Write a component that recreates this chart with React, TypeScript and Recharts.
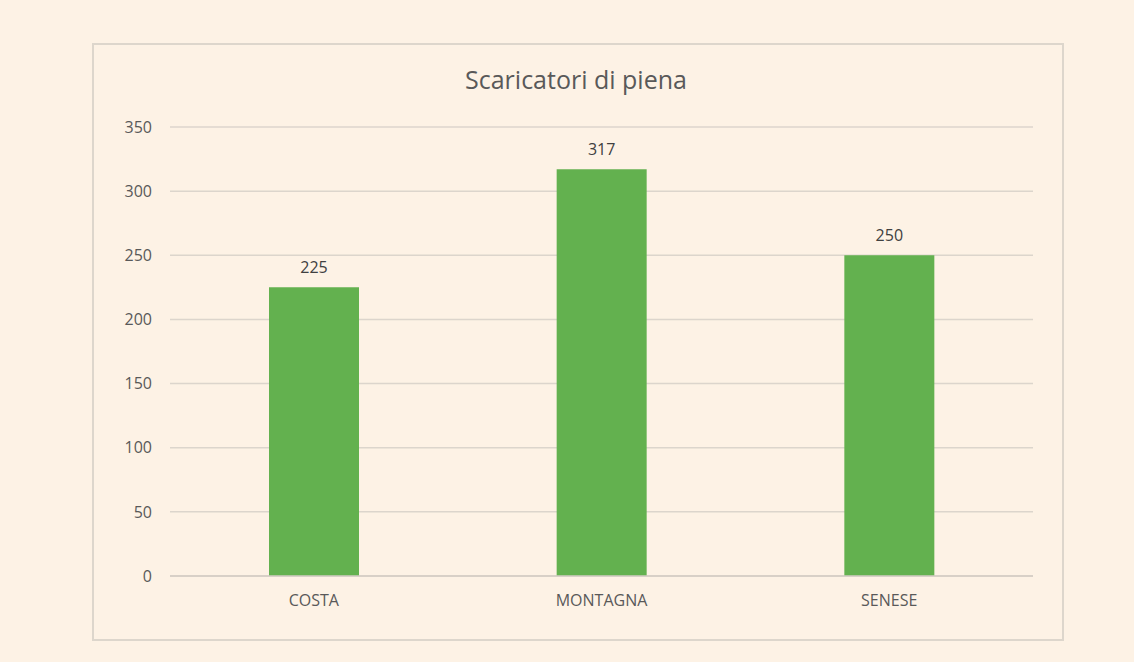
import { Bar, BarChart, CartesianGrid, LabelList, XAxis, YAxis } from "recharts";

const zone = ["COSTA", "MONTAGNA", "SENESE"];
const scaricatori = [225, 317, 250];
const yTicks = [0, 50, 100, 150, 200, 250, 300, 350];

const data = zone.map((z, i) => ({ zone: z, count: scaricatori[i] }));

const textGray = "#595959";
const font = "'Open Sans', 'Noto Sans', sans-serif";

export default function App() {
  return (
    <div
      style={{
        position: "absolute",
        left: 0,
        top: 0,
        width: 1134,
        height: 662,
        background: "#fdf2e5",
        fontFamily: font,
      }}
    >
      <div
        style={{
          position: "absolute",
          left: 92,
          top: 43,
          width: 968,
          height: 594,
          border: "2px solid #ddd6cc",
        }}
      />
      <div
        style={{
          position: "absolute",
          left: 0,
          width: 1152,
          top: 62,
          textAlign: "center",
          fontSize: 25,
          color: textGray,
        }}
      >
        Scaricatori di piena
      </div>
      <div style={{ position: "absolute", left: 0, top: 0 }}>
        <BarChart
          width={1134}
          height={662}
          data={data}
          margin={{ top: 127, right: 101, left: 130, bottom: 56 }}
        >
          <CartesianGrid vertical={false} stroke="#dcd5cc" strokeWidth={1.5} />
          <XAxis
            dataKey="zone"
            axisLine={{ stroke: "#d3ccc3", strokeWidth: 1.5 }}
            tickLine={false}
            tickSize={0}
            tickMargin={19}
            height={30}
            tick={{ fill: textGray, fontSize: 16, fontFamily: font }}
          />
          <YAxis
            domain={[0, 350]}
            ticks={yTicks}
            axisLine={false}
            tickLine={false}
            tickSize={0}
            tickMargin={18}
            width={40}
            tick={{ fill: textGray, fontSize: 16, fontFamily: font }}
          />
          <Bar dataKey="count" fill="#63b14f" barSize={90} isAnimationActive={false}>
            <LabelList
              dataKey="count"
              position="top"
              offset={14}
              style={{ fill: "#404040", fontSize: 16, fontFamily: font }}
            />
          </Bar>
        </BarChart>
      </div>
    </div>
  );
}
